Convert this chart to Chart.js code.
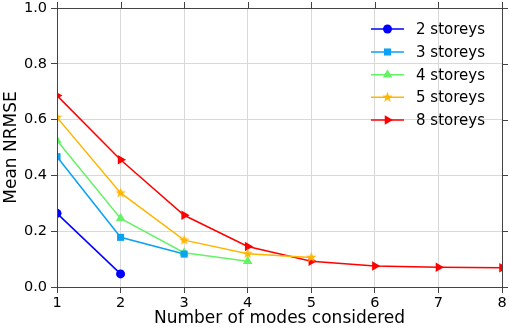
<!DOCTYPE html>
<html>
<head>
<meta charset="utf-8">
<script src="https://cdn.jsdelivr.net/npm/chart.js@4/dist/chart.umd.min.js"></script>
<style>
  html, body { margin: 0; padding: 0; background: #fff; }
</style>
</head>
<body>
<canvas id="chart" width="510" height="332"></canvas>
<script>
const modes = [1, 2, 3, 4, 5, 6, 7, 8]
const storeys2 = [0.264, 0.047]
const storeys3 = [0.467, 0.178, 0.118]
const storeys4 = [0.525, 0.246, 0.123, 0.092]
const storeys5 = [0.608, 0.337, 0.168, 0.119, 0.106]
const storeys8 = [0.686, 0.456, 0.257, 0.145, 0.092, 0.075, 0.071, 0.069]
const yTicks = [0, 0.2, 0.4, 0.6, 0.8, 1.0]

const FONT = "'DejaVu Sans', sans-serif"
const AXIS = "#444444"

// filled five point star used as marker for the 5 storeys series
function starMarker(color, r){
    const c = document.createElement("canvas")
    const s = Math.ceil(r * 2 + 2)
    c.width = s
    c.height = s
    const g = c.getContext("2d")
    g.fillStyle = color
    g.beginPath()
    for(let i = 0; i < 10; i++){
        const rad = i % 2 === 0 ? r : r * 0.42
        const a = -Math.PI / 2 + i * Math.PI / 5
        const px = s / 2 + rad * Math.cos(a)
        const py = s / 2 + rad * Math.sin(a)
        if(i === 0) g.moveTo(px, py)
        else g.lineTo(px, py)
    }
    g.closePath()
    g.fill()
    return c
}

function series(label, values, color, pointStyle, radius, rotation){
    return {
        label: label,
        data: values.map((v, i) => ({x: modes[i], y: v})),
        borderColor: color,
        backgroundColor: color,
        pointBackgroundColor: color,
        pointBorderColor: color,
        borderWidth: 1.5,
        pointStyle: pointStyle,
        pointRadius: radius,
        pointHoverRadius: radius,
        pointRotation: rotation || 0,
        pointBorderWidth: 0,
        tension: 0,
        clip: 0
    }
}

const datasets = [
    series("2 storeys", storeys2, "#0000ff", "circle", 4.5),
    series("3 storeys", storeys3, "#0aa2f5", "rect", 5),
    series("4 storeys", storeys4, "#66f266", "triangle", 5.5),
    series("5 storeys", storeys5, "#ffb600", starMarker("#ffb600", 5.5), 5.5),
    series("8 storeys", storeys8, "#ff0000", "triangle", 5.5, 90)
]

// clip lines and markers to the plot box, like the original
const clipBox = {
    id: "clipBox",
    beforeDatasetsDraw(chart){
        const a = chart.chartArea
        chart.ctx.save()
        chart.ctx.beginPath()
        chart.ctx.rect(a.left, a.top, a.right - a.left, a.bottom - a.top)
        chart.ctx.clip()
    },
    afterDatasetsDraw(chart){
        chart.ctx.restore()
    }
}

const frame = {
    id: "frame",
    afterDraw(chart){
        const ctx = chart.ctx
        const a = chart.chartArea
        const xs = chart.scales.x
        const ys = chart.scales.y
        ctx.save()
        ctx.strokeStyle = AXIS
        ctx.lineWidth = 1
        ctx.beginPath()
        // top and right outside ticks
        modes.forEach(m => {
            const px = Math.round(xs.getPixelForValue(m)) + 0.5
            ctx.moveTo(px, a.top)
            ctx.lineTo(px, a.top - 6)
        })
        yTicks.forEach(v => {
            const py = Math.round(ys.getPixelForValue(v)) + 0.5
            ctx.moveTo(a.right, py)
            ctx.lineTo(a.right + 6, py)
        })
        ctx.stroke()
        ctx.strokeRect(Math.round(a.left) + 0.5, Math.round(a.top) + 0.5,
            Math.round(a.right - a.left), Math.round(a.bottom - a.top))

        // legend: line with marker, then label
        const lx0 = 371, lx1 = 404, tx = 416
        const rows = [29, 52, 74.7, 97.3, 120]
        ctx.font = "15px " + FONT
        ctx.textBaseline = "middle"
        ctx.textAlign = "left"
        chart.data.datasets.forEach((ds, i) => {
            const y = rows[i]
            ctx.strokeStyle = ds.borderColor
            ctx.lineWidth = ds.borderWidth
            ctx.beginPath()
            ctx.moveTo(lx0, y)
            ctx.lineTo(lx1, y)
            ctx.stroke()
            ctx.fillStyle = ds.backgroundColor
            Chart.helpers.drawPoint(ctx, {
                pointStyle: ds.pointStyle,
                radius: ds.pointRadius,
                rotation: ds.pointRotation,
                borderWidth: 0
            }, (lx0 + lx1) / 2, y)
            ctx.fillStyle = "#000"
            ctx.fillText(ds.label, tx, y + 1)
        })
        ctx.restore()
    }
}

new Chart(document.getElementById("chart").getContext("2d"), {
    type: "line",
    data: { datasets: datasets },
    plugins: [clipBox, frame],
    options: {
        responsive: false,
        animation: false,
        events: [],
        layout: { padding: { left: 0, top: 8, right: 8, bottom: 0 } },
        plugins: {
            legend: { display: false },
            tooltip: { enabled: false }
        },
        scales: {
            x: {
                type: "linear",
                min: 1,
                max: 8,
                afterFit: s => { s.height = 45; s.paddingLeft = 0; s.paddingRight = 0 },
                afterBuildTicks: s => { s.ticks = modes.map(v => ({value: v})) },
                grid: { color: "#d9d9d9", lineWidth: 1, tickColor: AXIS, tickLength: 6 },
                border: { color: AXIS, width: 1 },
                ticks: {
                    color: "#000",
                    padding: 2,
                    font: { family: FONT, size: 14.5 },
                    callback: v => String(v)
                },
                title: {
                    display: true,
                    text: "Number of modes considered",
                    color: "#000",
                    font: { family: FONT, size: 17 },
                    padding: { top: 0, bottom: 3 }
                }
            },
            y: {
                min: 0,
                max: 1,
                afterFit: s => { s.width = 57; s.paddingTop = 0; s.paddingBottom = 0 },
                afterBuildTicks: s => { s.ticks = yTicks.map(v => ({value: v})) },
                grid: { color: "#d9d9d9", lineWidth: 1, tickColor: AXIS, tickLength: 6 },
                border: { color: AXIS, width: 1 },
                ticks: {
                    color: "#000",
                    padding: 4,
                    font: { family: FONT, size: 14.5 },
                    callback: v => v.toFixed(1)
                },
                title: {
                    display: true,
                    text: "Mean NRMSE",
                    color: "#000",
                    font: { family: FONT, size: 17 },
                    padding: { top: 1, bottom: 0 }
                }
            }
        }
    }
})
</script>
</body>
</html>
